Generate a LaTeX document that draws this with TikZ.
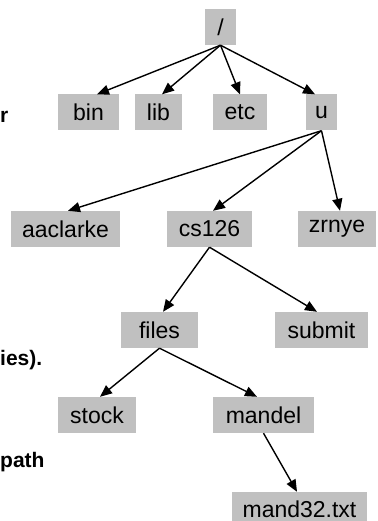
\documentclass[tikz,border=0pt]{standalone}
\usepackage{fontspec}
\setmainfont{Liberation Sans}
\usetikzlibrary{arrows.meta}
\definecolor{dirgray}{HTML}{C0C0C0}

\begin{document}
\begin{tikzpicture}[x=1pt,y=-1pt,
  dir/.style={fill=dirgray,minimum height=36pt,inner sep=0pt,
    font=\fontsize{23}{27}\selectfont},
  side/.style={anchor=base west,inner sep=0pt,
    font=\fontsize{21}{25}\selectfont\bfseries},
  link/.style={-{Triangle[length=12pt,width=10pt]},line width=1.4pt}]
\useasboundingbox (0,0) rectangle (377,521);
% text cut off at the left edge
\node[side] (t1) at (0,123) {r};
\node[side] (t2) at (0,365) {ies).};
\node[side] (t3) at (0,467) {path};
% the tree
\node[dir,minimum width=31pt]  (root)     at (220.5,27)  {/};
\node[dir,minimum width=61pt]  (bin)      at (88.5,112.5) {bin};
\node[dir,minimum width=47pt]  (lib)      at (158.5,112.5) {lib};
\node[dir,minimum width=54pt]  (etc)      at (240,112.5) {etc};
\node[dir,minimum width=31pt]  (u)        at (321.5,112.5) {u};
\node[dir,minimum width=109pt] (aaclarke) at (65.5,229) {aaclarke};
\node[dir,minimum width=85pt]  (cs126)    at (209.5,229) {cs126};
\node[dir,minimum width=78pt]  (zrnye)    at (337,229) {zrnye};
\node[dir,minimum width=77pt]  (files)    at (159.5,330) {files};
\node[dir,minimum width=93pt]  (submit)   at (321.5,330) {submit};
\node[dir,minimum width=78pt]  (stock)    at (97,415) {stock};
\node[dir,minimum width=101pt] (mandel)   at (263.5,415) {mandel};
% bottom box runs off the page
\node[dir,minimum width=135pt,minimum height=29pt,text height=21pt,text depth=0pt]
  (mand32) at (299.5,506.5) {mand32.txt};
% arrows
\foreach \n/\s in {bin/8.5,lib/3.5,etc/0,u/-6.5}
  \draw[link] (root.south) -- ([xshift=\s pt]\n.north);
\foreach \n/\s in {aaclarke/2.5,cs126/3.5,zrnye/3}
  \draw[link] (u.south) -- ([xshift=\s pt]\n.north);
\foreach \n/\s in {files/3.5,submit/-4.5}
  \draw[link] (cs126.south) -- ([xshift=\s pt]\n.north);
\foreach \n/\s in {stock/3,mandel/-6.5}
  \draw[link] (files.south) -- ([xshift=\s pt]\n.north);
\draw[link] (mandel.south) -- ([xshift=-2.5pt]mand32.north);
\end{tikzpicture}
\end{document}
